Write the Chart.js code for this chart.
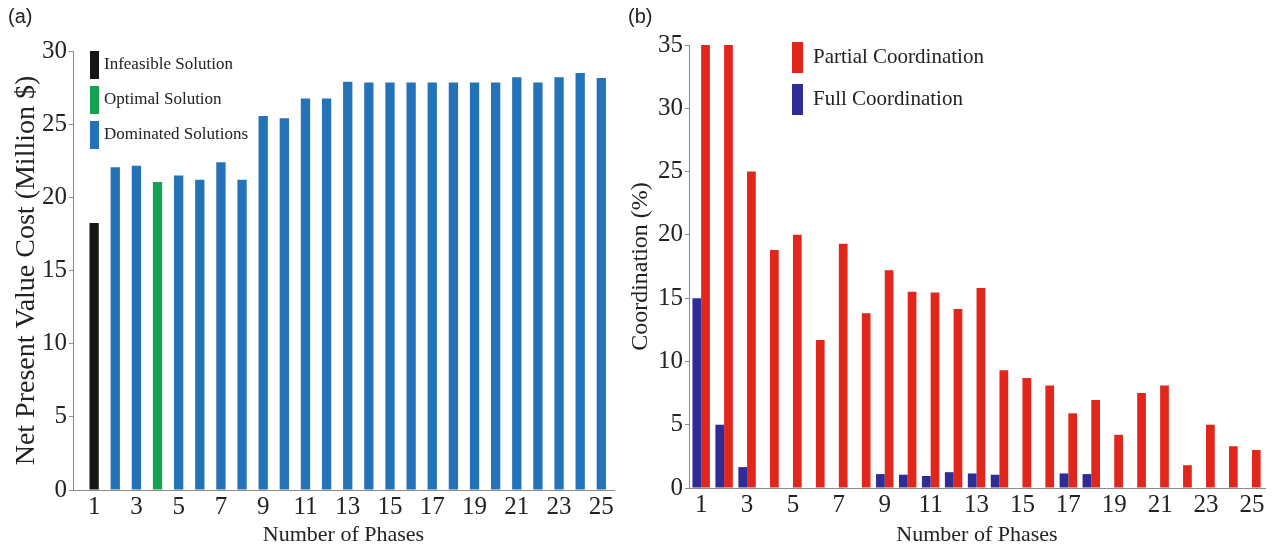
<!DOCTYPE html>
<html>
<head>
<meta charset="utf-8">
<script src="https://cdn.jsdelivr.net/npm/chart.js@4.4.1/dist/chart.umd.min.js"></script>
<style>
    body { margin: 0; background: #fff; }
    #wrap { position: relative; width: 1279px; height: 548px; display: flex; }
    .panel-tag { position: absolute; top: 5px; font: 20px "Liberation Sans", Arial, sans-serif; color: #222; }
</style>
</head>
<body>
<div id="wrap">
    <canvas id="npv-bar" width="620" height="548"></canvas>
    <canvas id="coord-bar" width="659" height="548"></canvas>
    <span class="panel-tag" style="left:8px">(a)</span>
    <span class="panel-tag" style="left:628px">(b)</span>
</div>
<script>
// values
const phases = [1, 2, 3, 4, 5, 6, 7, 8, 9, 10, 11, 12, 13, 14, 15, 16, 17, 18, 19, 20, 21, 22, 23, 24, 25];
const phaseTicks = [1, 3, 5, 7, 9, 11, 13, 15, 17, 19, 21, 23, 25];
const npvCost = [18.25, 22.05, 22.15, 21.05, 21.5, 21.2, 22.4, 21.2, 25.55, 25.4, 26.75, 26.75, 27.9,
    27.85, 27.85, 27.85, 27.85, 27.85, 27.85, 27.85, 28.2, 27.85, 28.2, 28.5, 28.15];
const infeasiblePhases = [1];
const optimalPhases = [4];
const partialCoord = [35, 35, 25, 18.8, 20, 11.7, 19.3, 13.8, 17.2, 15.5, 15.45, 14.15, 15.8,
    9.3, 8.7, 8.1, 5.9, 6.95, 4.2, 7.5, 8.1, 1.8, 5.0, 3.3, 3.0];
const fullCoord = [15, 5, 1.65, 0, 0, 0, 0, 0, 1.1, 1.05, 0.95, 1.25, 1.15,
    1.05, 0, 0, 1.15, 1.1, 0, 0, 0, 0, 0, 0, 0];

const serif = '"Liberation Serif", "Times New Roman", serif';
const tickFont = { family: serif, size: 25 };
const axisGray = '#8c8c8c';
const textColor = '#222';

// draws the vertical-box key inside the plot area, like the original figure
const keyPlugin = {
    id: 'key',
    afterDraw(chart, args, opts) {
        const { ctx, chartArea } = chart;
        ctx.save();
        ctx.font = opts.font;
        ctx.textBaseline = 'middle';
        opts.order.forEach((dsIndex, i) => {
            const ds = chart.data.datasets[dsIndex];
            const x = chartArea.left + opts.x;
            const y = chartArea.top + opts.y + i * opts.step;
            ctx.fillStyle = ds.backgroundColor;
            ctx.fillRect(x, y, opts.boxWidth, opts.boxHeight);
            ctx.fillStyle = textColor;
            ctx.fillText(ds.label, x + opts.boxWidth + opts.gap, y + opts.boxHeight / 2);
        });
        ctx.restore();
    }
};

function pointsFor(filter) {
    return phases.filter(filter).map(p => ({ x: p, y: npvCost[p - 1] }));
}

function xAxis(min, max, height) {
    return {
        type: 'linear',
        offset: false,
        min: min,
        max: max,
        afterBuildTicks: axis => { axis.ticks = phaseTicks.map(v => ({ value: v })); },
        afterFit: axis => { axis.height = height; },
        grid: { drawOnChartArea: false, drawTicks: false },
        border: { color: axisGray },
        ticks: { padding: 2, color: textColor, font: tickFont, maxRotation: 0, autoSkip: false },
        title: { display: true, text: 'Number of Phases', color: textColor, font: { family: serif, size: 22 }, padding: 0 }
    };
}

function yAxis(max, width, title, titleSize, titlePad) {
    return {
        min: 0,
        max: max,
        afterFit: axis => { axis.width = width; },
        grid: { drawOnChartArea: false, tickLength: 4, color: axisGray },
        border: { color: axisGray },
        ticks: { stepSize: 5, padding: 2, color: textColor, font: tickFont },
        title: {
            display: true, text: title, color: textColor,
            font: { family: serif, size: titleSize },
            padding: { top: titlePad, bottom: titlePad }
        }
    };
}

new Chart('npv-bar', {
    type: 'bar',
    data: {
        datasets: [{
            label: 'Infeasible Solution',
            data: pointsFor(p => infeasiblePhases.includes(p)),
            backgroundColor: '#161616'
        }, {
            label: 'Optimal Solution',
            data: pointsFor(p => optimalPhases.includes(p)),
            backgroundColor: '#14a150'
        }, {
            label: 'Dominated Solutions',
            data: pointsFor(p => !infeasiblePhases.includes(p) && !optimalPhases.includes(p)),
            backgroundColor: '#2472b8'
        }]
    },
    options: {
        responsive: false,
        animation: false,
        layout: { padding: { top: 51, right: 6, left: 0, bottom: 0 } },
        datasets: { bar: { grouped: false, barPercentage: 0.44, categoryPercentage: 1, borderWidth: 0 } },
        scales: {
            x: xAxis(0, 25.6, 58),
            y: yAxis(30, 73, 'Net Present Value Cost (Million $)', 28, 10)
        },
        plugins: {
            legend: { display: false },
            tooltip: { enabled: false },
            key: { order: [0, 1, 2], x: 17, y: 0, step: 35, boxWidth: 9, boxHeight: 28, gap: 5, font: '17px ' + serif }
        }
    },
    plugins: [keyPlugin]
});

new Chart('coord-bar', {
    type: 'bar',
    data: {
        datasets: [{
            label: 'Full Coordination',
            data: phases.map((p, i) => ({ x: p, y: fullCoord[i] })),
            backgroundColor: '#2f2b97'
        }, {
            label: 'Partial Coordination',
            data: phases.map((p, i) => ({ x: p, y: partialCoord[i] })),
            backgroundColor: '#e1261c'
        }]
    },
    options: {
        responsive: false,
        animation: false,
        layout: { padding: { top: 45, right: 14, left: 0, bottom: 0 } },
        datasets: { bar: { barPercentage: 1, categoryPercentage: 0.76, borderWidth: 0 } },
        scales: {
            x: xAxis(0.47, 25.57, 60),
            y: yAxis(35, 69, 'Coordination (%)', 24, 6)
        },
        plugins: {
            legend: { display: false },
            tooltip: { enabled: false },
            key: { order: [1, 0], x: 103, y: -3, step: 42, boxWidth: 11, boxHeight: 31, gap: 10, font: '21px ' + serif }
        }
    },
    plugins: [keyPlugin]
});
</script>
</body>
</html>
